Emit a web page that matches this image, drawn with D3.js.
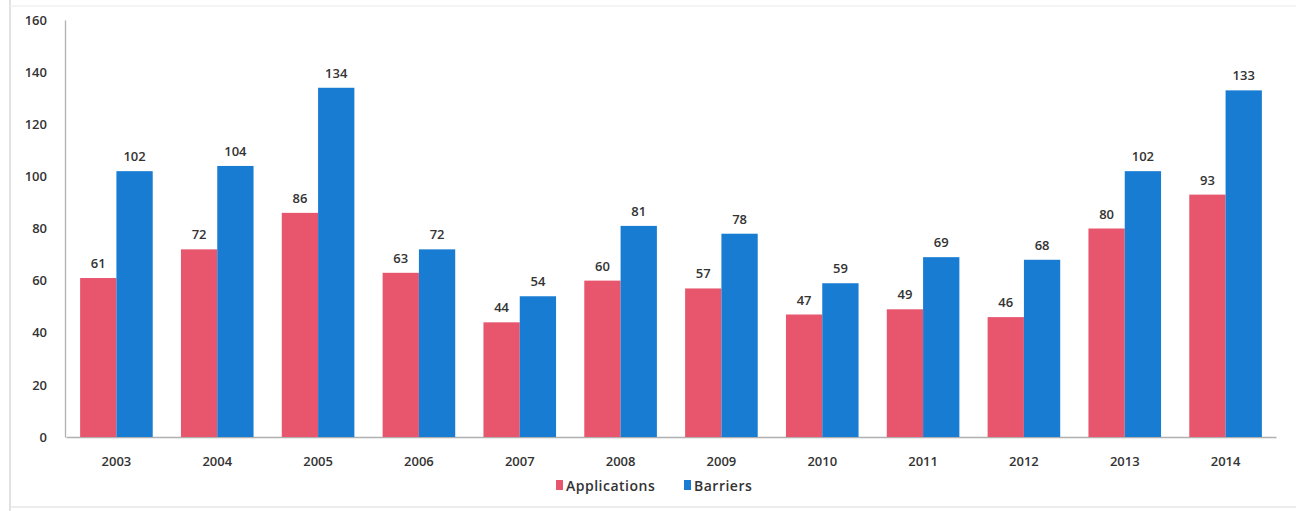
<!DOCTYPE html>
<html><head><meta charset="utf-8">
<script src="https://cdn.jsdelivr.net/npm/d3@7"></script>
<style>
body{margin:0;background:#fff;}
text{font-family:"Open Sans","DejaVu Sans",sans-serif;}
</style></head>
<body>
<svg id="c" width="1296" height="511"></svg>
<script>
const years = ["2003","2004","2005","2006","2007","2008","2009","2010","2011","2012","2013","2014"];
const applications = [61,72,86,63,44,60,57,47,49,46,80,93];
const barriers = [102,104,134,72,54,81,78,59,69,68,102,133];
const seriesNames = ["Applications","Barriers"];
const yTicks = [0,20,40,60,80,100,120,140,160];
const colors = ["#e8566e","#187dd2"];

const svg = d3.select("#c");
// faint frame
svg.append("line").attr("x1",10).attr("x2",10).attr("y1",0).attr("y2",511).attr("stroke","#d8d8d8").attr("stroke-width",1.5);
svg.append("line").attr("x1",10).attr("x2",1296).attr("y1",507).attr("y2",507).attr("stroke","#e6e6e6").attr("stroke-width",1.5);
svg.append("line").attr("x1",10).attr("x2",1296).attr("y1",6).attr("y2",6).attr("stroke","#f0f0f0").attr("stroke-width",1.5);

const x0 = d3.scaleBand().domain(years).range([66,1276]).padding(0);
const x1 = d3.scaleBand().domain(seriesNames).range([x0.bandwidth()*0.14, x0.bandwidth()*0.86]).padding(0);
const y = d3.scaleLinear().domain([0,160]).range([437,20]);

// y axis
const yAxis = svg.append("g").attr("transform","translate(65,0)")
  .call(d3.axisLeft(y).tickValues(yTicks).tickSize(0).tickPadding(18));
yAxis.select(".domain").attr("stroke","#b0b0b0").attr("stroke-width",1.3);
yAxis.selectAll("text").attr("font-size",13).attr("font-weight",600).attr("fill","#333");

// x axis
const xAxis = svg.append("g").attr("transform","translate(0,437)")
  .call(d3.axisBottom(x0).tickSize(0).tickPadding(20));
xAxis.select(".domain").attr("stroke","#b0b0b0").attr("stroke-width",1.3);
xAxis.selectAll("text").attr("font-size",13).attr("font-weight",600).attr("fill","#333");

const data = years.map((yr,i)=>({year:yr, vals:[applications[i], barriers[i]]}));
const groups = svg.append("g").selectAll("g").data(data).join("g")
  .attr("transform", d=>`translate(${x0(d.year)},0)`);
groups.selectAll("rect").data(d=>d.vals.map((v,j)=>({name:seriesNames[j], v, j}))).join("rect")
  .attr("x", d=>x1(d.name)).attr("width", x1.bandwidth())
  .attr("y", d=>y(d.v)).attr("height", d=>y(0)-y(d.v))
  .attr("fill", d=>colors[d.j]);
groups.selectAll("text").data(d=>d.vals.map((v,j)=>({name:seriesNames[j], v, j}))).join("text")
  .attr("x", d=>x1(d.name)+x1.bandwidth()/2).attr("y", d=>y(d.v)-10)
  .attr("text-anchor","middle").attr("font-size",13).attr("font-weight",600).attr("fill","#333")
  .text(d=>d.v);

// legend
const legend = svg.append("g").attr("transform","translate(556,487)");
const lx = [0,128];
seriesNames.forEach((n,i)=>{
  const g = legend.append("g").attr("transform",`translate(${lx[i]},0)`);
  g.append("rect").attr("x",0).attr("y",-7).attr("width",7).attr("height",10).attr("fill",colors[i]);
  g.append("text").attr("x",10).attr("y",4).attr("font-size",14).attr("letter-spacing",0.5).attr("font-weight",600).attr("fill","#333").text(n);
});
</script>
</body></html>
